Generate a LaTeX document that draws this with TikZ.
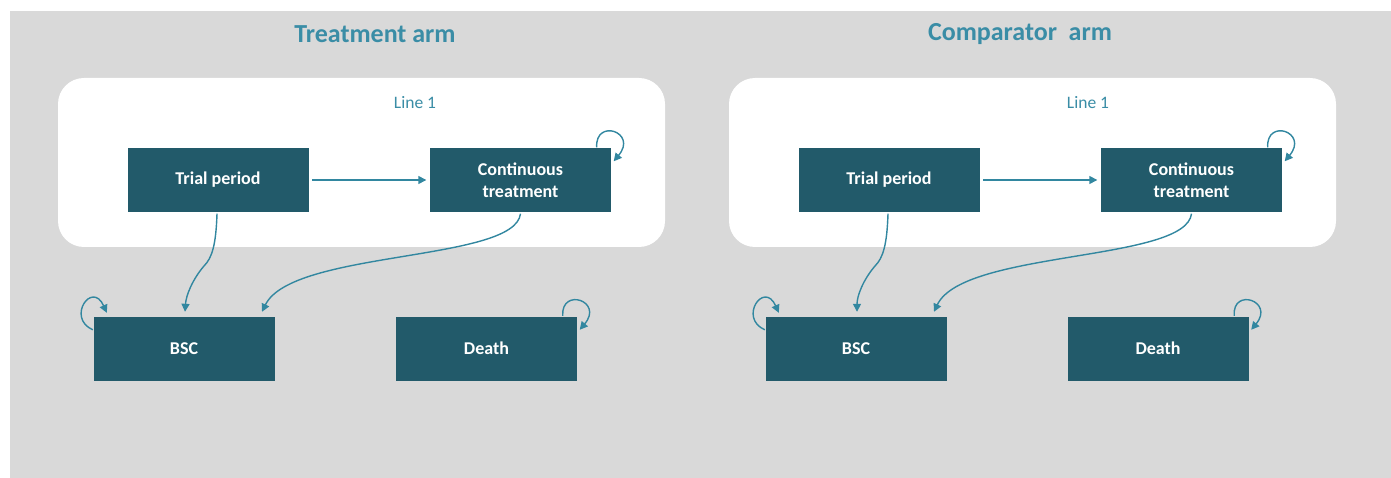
\documentclass[tikz,border=0pt]{standalone}
\usepackage{fontspec}
\setmainfont{Carlito}
\usetikzlibrary{arrows.meta}

\definecolor{bggray}{HTML}{D9D9D9}
\definecolor{boxteal}{HTML}{225A6A}
\definecolor{linkteal}{HTML}{3287A0}
\definecolor{titleteal}{HTML}{3A8DA6}

\begin{document}
\begin{tikzpicture}[x=1pt, y=1pt, line width=1.4pt]

    \tikzset{block/.style={%
      rectangle,%
      fill=boxteal,%
      text=white,%
      align=center,%
      font=\fontsize{18}{22}\selectfont\bfseries,%
      minimum width=181pt,%
      minimum height=64pt}%
    };

    \tikzset{panel/.style={fill=white, rounded corners=26pt}};

    \tikzset{armtitle/.style={text=titleteal, font=\fontsize{26}{30}\selectfont\bfseries}};

    \tikzset{linelabel/.style={text=titleteal, font=\fontsize{17.5}{20}\selectfont}};

    \tikzset{link/.style={draw=linkteal, -{Triangle[length=8pt, width=8pt]}}};

    \useasboundingbox (0, 0) rectangle (1391, -478);
    \fill[white] (0, 0) rectangle (1391, -478);
    \fill[bggray] (10, -11) rectangle (1391, -478);

    %%%%%%%%%%%%%%%%%
    % treatment arm %
    %%%%%%%%%%%%%%%%%
    \fill[panel] (58, -78) rectangle (665, -247);

    \node[armtitle] (ttitle) at (375, -34) {Treatment arm};

    \node[linelabel] (tline) at (415, -103) {Line 1};

    \path (218, -180) node [block] (ttrial) {Trial period};

    \path (520.5, -180) node [block] (tcont) {Continuous\\treatment};

    \path (184, -348.5) node [block] (tbsc) {BSC};

    \path (486.5, -348.5) node [block] (tdeath) {Death};

    \draw [link] ([xshift=3pt]ttrial.east) -- ([xshift=-3pt]tcont.west);
    \draw [link] ([xshift=-1pt, yshift=-1pt]ttrial.south)
      .. controls (216, -245) and (212, -258) .. (204, -266)
      .. controls (192, -280) and (186, -296) .. ([xshift=1pt, yshift=4pt]tbsc.north);
    \draw [link] ([yshift=-1pt]tcont.south)
      .. controls (515, -262) and (292, -250) .. ([xshift=78pt, yshift=4pt]tbsc.north);
    \draw [link] ([xshift=-15pt]tcont.north east)
      .. controls (595, -118) and (638, -132) .. ([xshift=2pt, yshift=-14pt]tcont.north east);
    \draw [link] ([yshift=-14pt]tbsc.north west)
      .. controls (66, -318) and (92, -280) .. ([xshift=14pt, yshift=3pt]tbsc.north west);
    \draw [link] ([xshift=-15pt]tdeath.north east)
      .. controls (561, -287) and (604, -301) .. ([xshift=2pt, yshift=-14pt]tdeath.north east);

    %%%%%%%%%%%%%%%%%%
    % comparator arm %
    %%%%%%%%%%%%%%%%%%
    \fill[panel] (729, -78) rectangle (1336, -247);

    \node[armtitle] (ctitle) at (1020, -34) {Comparator\ \ arm};

    \node[linelabel] (cline) at (1088, -103) {Line 1};

    \path (889, -180) node [block] (ctrial) {Trial period};

    \path (1191.5, -180) node [block] (ccont) {Continuous\\treatment};

    \path (856, -348.5) node [block] (cbsc) {BSC};

    \path (1158, -348.5) node [block] (cdeath) {Death};

    \draw [link] ([xshift=3pt]ctrial.east) -- ([xshift=-3pt]ccont.west);
    \draw [link] ([xshift=-1pt, yshift=-1pt]ctrial.south)
      .. controls (887, -245) and (883, -258) .. (875, -266)
      .. controls (863, -280) and (857, -296) .. ([xshift=1pt, yshift=4pt]cbsc.north);
    \draw [link] ([yshift=-1pt]ccont.south)
      .. controls (1186, -262) and (963, -250) .. ([xshift=78pt, yshift=4pt]cbsc.north);
    \draw [link] ([xshift=-15pt]ccont.north east)
      .. controls (1266, -118) and (1309, -132) .. ([xshift=2pt, yshift=-14pt]ccont.north east);
    \draw [link] ([yshift=-14pt]cbsc.north west)
      .. controls (738, -318) and (764, -280) .. ([xshift=14pt, yshift=3pt]cbsc.north west);
    \draw [link] ([xshift=-15pt]cdeath.north east)
      .. controls (1232, -287) and (1275, -301) .. ([xshift=2pt, yshift=-14pt]cdeath.north east);

  \end{tikzpicture}
\end{document}
